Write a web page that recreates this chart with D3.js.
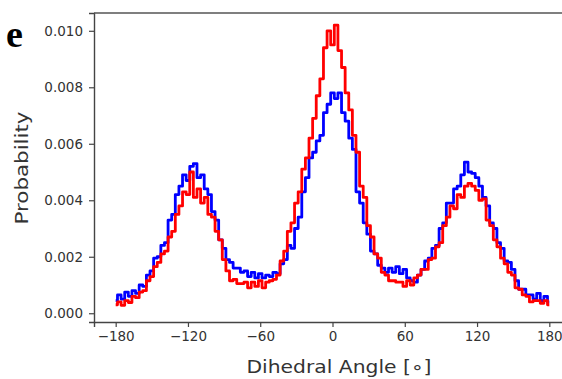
<!DOCTYPE html>
<html>
<head>
<meta charset="utf-8">
<script src="https://cdn.jsdelivr.net/npm/d3@7"></script>
<style>
  body { margin: 0; background: #fff; }
  svg { display: block; }
</style>
</head>
<body>
<div id="chart"></div>
<script>
// Dimensions
const width = 562;
const height = 379;

// Bin centres, every 3 degrees from -180 to 180
const angles = d3.range(-180, 181, 3);

// Probability (units of 1e-3)
const bluePeaks = [
  0.45, 0.65, 0.5, 0.75, 0.6, 0.8, 0.7, 1.0, 0.95, 1.35,
  1.5, 1.95, 2.0, 2.4, 2.5, 3.3, 3.5, 4.2, 4.5, 4.9,
  4.7, 5.2, 5.3, 4.8, 4.9, 4.4, 4.2, 3.6, 3.3, 2.6,
  2.3, 1.9, 1.8, 1.6, 1.6, 1.45, 1.5, 1.3, 1.45, 1.25,
  1.4, 1.25, 1.35, 1.3, 1.45, 1.4, 1.75, 1.9, 2.4, 2.3,
  3.0, 3.4, 4.3, 4.8, 5.5, 5.7, 6.1, 6.3, 7.1, 7.4,
  7.8, 7.6, 7.8, 7.1, 6.8, 6.2, 5.8, 4.3, 3.9, 3.2,
  2.8, 2.2, 2.1, 1.7, 1.6, 1.45, 1.6, 1.45, 1.65, 1.4,
  1.55, 1.25, 1.15, 1.1, 1.35, 1.55, 1.85, 1.95, 2.3, 2.4,
  3.0, 3.2, 3.9, 3.9, 4.4, 4.5, 4.9, 5.35, 5.0, 4.95,
  4.8, 4.5, 4.1, 3.8, 3.2, 3.0, 2.5, 2.3, 1.85, 1.8,
  1.55, 1.15, 0.85, 0.85, 0.65, 0.65, 0.5, 0.7, 0.45, 0.6,
  0.4
];
const redPeaks = [
  0.3, 0.4, 0.28, 0.45, 0.38, 0.6, 0.55, 0.75, 0.8, 1.15,
  1.3, 1.65, 1.8, 2.1, 2.2, 2.7, 2.9, 3.5, 3.8, 4.3,
  4.2, 5.0, 4.1, 4.4, 3.9, 4.1, 3.5, 3.4, 2.9, 2.6,
  1.9, 1.5, 1.15, 1.2, 1.05, 1.05, 1.1, 0.9, 1.1, 0.95,
  1.15, 0.9, 1.1, 1.15, 1.2, 1.35, 1.85, 2.2, 2.9, 3.2,
  3.9, 4.3, 5.1, 5.5, 6.2, 6.9, 7.7, 8.3, 9.4, 10.0,
  9.5, 10.2, 9.3, 8.7, 7.8, 7.2, 6.3, 5.7, 4.5, 4.1,
  3.1, 2.7, 2.1, 1.95, 1.45, 1.35, 1.15, 1.15, 1.1, 1.1,
  0.95, 1.15, 1.0, 1.25, 1.35, 1.55, 1.55, 1.9, 1.95, 2.35,
  2.5, 3.1, 3.4, 3.8, 3.7, 4.2, 4.1, 4.5, 4.6, 4.5,
  4.35, 4.0, 4.05, 3.3, 3.1, 2.6, 2.35, 1.95, 1.75, 1.45,
  1.35, 0.9, 0.85, 0.65, 0.6, 0.4, 0.45, 0.45, 0.35, 0.45,
  0.3
];

const xTicks = [-180, -120, -60, 0, 60, 120, 180];
const yTicks = [0, 0.002, 0.004, 0.006, 0.008, 0.010];

const seriesList = [
  { name: "blue", color: "#0000ff", values: bluePeaks },
  { name: "red", color: "#ff0000", values: redPeaks }
];

// Plot frame (right edge runs past the picture)
const plot = { left: 94, top: 13, bottom: 322, right: 571 };

const x = d3.scaleLinear()
    .domain([-198, 198])
    .range([plot.left, plot.right]);

const y = d3.scaleLinear()
    .domain([-0.00031, 0.01063])
    .range([plot.bottom, plot.top]);

const svg = d3.select("#chart")
    .append("svg")
    .attr("width", width)
    .attr("height", height)
    .style("font-family", "'DejaVu Sans', sans-serif");

// Lines, drawn as steps like the histogram in the picture
const line = d3.line()
    .x((d, i) => x(angles[i]))
    .y(d => y(d / 1000))
    .curve(d3.curveStep);

svg.append("g")
    .selectAll("path")
    .data(seriesList)
    .join("path")
    .attr("d", d => line(d.values))
    .attr("fill", "none")
    .attr("stroke", d => d.color)
    .attr("stroke-width", 2.8)
    .attr("stroke-linejoin", "round");

// Axes
const spineColor = "#444";

const xAxis = svg.append("g")
    .attr("transform", `translate(0,${plot.bottom})`)
    .call(d3.axisBottom(x).tickValues(xTicks).tickSize(5).tickPadding(4)
        .tickFormat(d => d3.format("d")(d).replace("-", "\u2212")));

const yAxis = svg.append("g")
    .attr("transform", `translate(${plot.left},0)`)
    .call(d3.axisLeft(y).tickValues(yTicks).tickSize(5).tickPadding(6)
        .tickFormat(d3.format(".3f")));

[xAxis, yAxis].forEach(g => {
    g.select(".domain").attr("stroke", spineColor).attr("stroke-width", 1.4);
    g.selectAll(".tick line").attr("stroke", spineColor).attr("stroke-width", 1.2);
    g.selectAll(".tick text")
        .attr("fill", "#333")
        .style("font-size", "13.5px")
        .style("font-family", "'DejaVu Sans', sans-serif");
});

// Top spine
svg.append("line")
    .attr("x1", plot.left).attr("x2", plot.right)
    .attr("y1", plot.top).attr("y2", plot.top)
    .attr("stroke", "#555")
    .attr("stroke-width", 1.6);

// Axis labels
svg.append("text")
    .attr("x", 339)
    .attr("y", 373)
    .attr("text-anchor", "middle")
    .attr("fill", "#333")
    .attr("textLength", 185)
    .attr("lengthAdjust", "spacingAndGlyphs")
    .style("font-size", "17px")
    .text("Dihedral Angle [\u2218]");

svg.append("text")
    .attr("transform", "translate(28,168) rotate(-90)")
    .attr("text-anchor", "middle")
    .attr("fill", "#333")
    .attr("textLength", 113)
    .attr("lengthAdjust", "spacingAndGlyphs")
    .style("font-size", "17px")
    .text("Probability");

// Panel letter
svg.append("text")
    .attr("x", 6)
    .attr("y", 47)
    .attr("fill", "#000")
    .style("font-family", "'Liberation Serif', 'Times New Roman', serif")
    .style("font-weight", "bold")
    .style("font-size", "38px")
    .text("e");
</script>
</body>
</html>
